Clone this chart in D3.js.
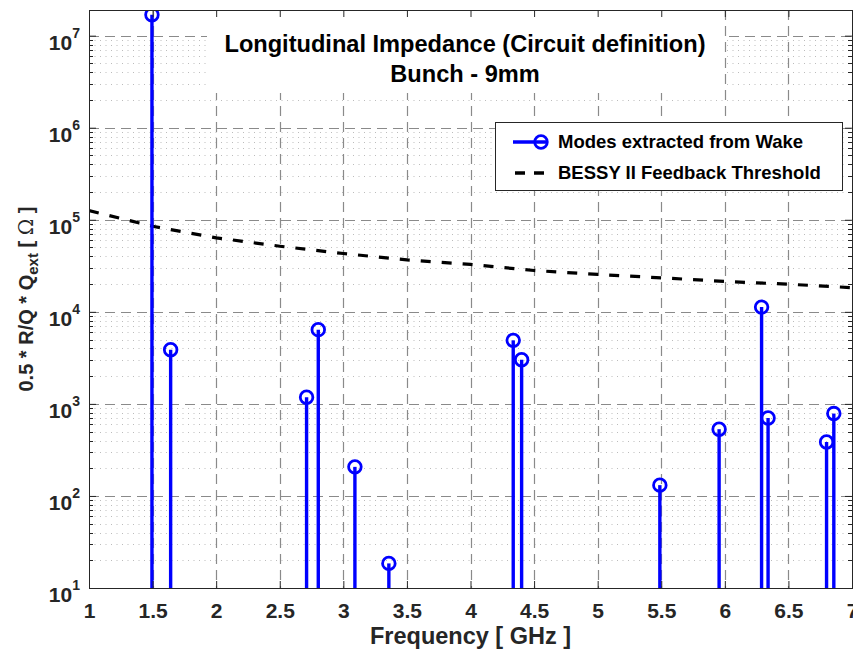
<!DOCTYPE html>
<html>
<head>
<meta charset="utf-8">
<script src="https://cdn.jsdelivr.net/npm/d3@7"></script>
<style>
  body { margin: 0; background: #fff; }
  text { font-family: "Liberation Sans", Arial, sans-serif; font-weight: bold; fill: #262626; }
</style>
</head>
<body>
<svg id="chart" width="853" height="651"></svg>
<script>
// modes extracted from the wake (frequency in GHz, 0.5*R/Q*Qext in Ohm)
const modeFreq = [1.495, 1.642, 2.711, 2.803, 3.091, 3.358, 4.336, 4.402, 5.489, 5.955, 6.289, 6.340, 6.800, 6.857];
const modeImp = [1.69e7, 3880, 1180, 6400, 207, 18.5, 4900, 3020, 131, 531, 11250, 703, 386, 785];

// BESSY II feedback threshold
const thrFreq = [1.0, 1.5, 2.0, 2.5, 3.0, 3.5, 4.0, 4.5, 5.0, 5.5, 6.0, 6.5, 7.0];
const thrImp = [126000, 85000, 63700, 51600, 43000, 36700, 32700, 28100, 25500, 23400, 21400, 19950, 18300];

const xTicks = [1, 1.5, 2, 2.5, 3, 3.5, 4, 4.5, 5, 5.5, 6, 6.5, 7];
const xTickLabels = ['1', '1.5', '2', '2.5', '3', '3.5', '4', '4.5', '5', '5.5', '6', '6.5', '7'];
const yDecades = [1, 2, 3, 4, 5, 6, 7];
const titleLines = ['Longitudinal Impedance (Circuit definition)', 'Bunch - 9mm'];
const legendLabels = ['Modes extracted from Wake', 'BESSY II Feedback Threshold'];

const box = { left: 89, right: 852, top: 10, bottom: 588 };
const blue = '#0000ff';

const svg = d3.select('#chart');

const x = d3.scaleLinear().domain([1, 7]).range([box.left, box.right]);
const y = d3.scaleLog().domain([10, 1.9e7]).range([box.bottom, box.top]);

svg.append('defs').append('clipPath').attr('id', 'plotClip')
  .append('rect')
  .attr('x', box.left).attr('y', box.top)
  .attr('width', box.right - box.left).attr('height', box.bottom - box.top);

// minor grid (dotted rows at 2..9 x decade)
const minorVals = [];
yDecades.forEach(d => {
  for (let k = 2; k <= 9; k++) {
    const v = k * Math.pow(10, d);
    if (v < y.domain()[1]) minorVals.push(v);
  }
});

const grid = svg.append('g');
grid.selectAll('.minor')
  .data(minorVals)
  .enter()
  .append('line')
  .attr('x1', box.left).attr('x2', box.right)
  .attr('y1', d => Math.round(y(d)) + 0.5).attr('y2', d => Math.round(y(d)) + 0.5)
  .attr('stroke', '#bcbcbc')
  .attr('stroke-width', 1)
  .attr('stroke-dasharray', '1,4.5');

// major grid
grid.selectAll('.majorY')
  .data(yDecades.slice(1).map(d => Math.pow(10, d)))
  .enter()
  .append('line')
  .attr('x1', box.left).attr('x2', box.right)
  .attr('y1', d => Math.round(y(d)) + 0.5).attr('y2', d => Math.round(y(d)) + 0.5)
  .attr('stroke', '#8a8a8a')
  .attr('stroke-width', 1.2)
  .attr('stroke-dasharray', '10,6');

grid.selectAll('.majorX')
  .data(xTicks.slice(1, -1))
  .enter()
  .append('line')
  .attr('x1', d => Math.round(x(d)) + 0.5).attr('x2', d => Math.round(x(d)) + 0.5)
  .attr('y1', box.top).attr('y2', box.bottom)
  .attr('stroke', '#8a8a8a')
  .attr('stroke-width', 1.2)
  .attr('stroke-dasharray', '10,6');

// data
const plot = svg.append('g').attr('clip-path', 'url(#plotClip)');

const thrLine = d3.line()
  .x((d, i) => x(thrFreq[i]))
  .y(d => y(d));

plot.append('path')
  .datum(thrImp)
  .attr('d', thrLine)
  .attr('fill', 'none')
  .attr('stroke', '#000')
  .attr('stroke-width', 3.2)
  .attr('stroke-dasharray', '10,11');

const modes = modeFreq.map((f, i) => ({ f: f, z: modeImp[i] }));

plot.selectAll('.stem')
  .data(modes)
  .enter()
  .append('line')
  .attr('x1', d => x(d.f)).attr('x2', d => x(d.f))
  .attr('y1', box.bottom).attr('y2', d => y(d.z))
  .attr('stroke', blue)
  .attr('stroke-width', 3.4);

plot.selectAll('.marker')
  .data(modes)
  .enter()
  .append('circle')
  .attr('cx', d => x(d.f))
  .attr('cy', d => y(d.z))
  .attr('r', 6.3)
  .attr('fill', 'none')
  .attr('stroke', blue)
  .attr('stroke-width', 2.8);

// title box
svg.append('rect')
  .attr('x', 207).attr('y', box.top + 1)
  .attr('width', 517).attr('height', 82)
  .attr('fill', '#fff');

svg.selectAll('.title')
  .data(titleLines)
  .enter()
  .append('text')
  .attr('x', 465)
  .attr('y', (d, i) => 52 + i * 30)
  .attr('text-anchor', 'middle')
  .style('font-size', '23.6px')
  .style('fill', '#000')
  .text(d => d);

// axes
const axisColor = '#262626';

const xAxis = svg.append('g')
  .attr('transform', `translate(0,${box.bottom})`)
  .call(d3.axisBottom(x).tickValues(xTicks).tickSizeInner(-7).tickSizeOuter(0)
    .tickFormat((d, i) => xTickLabels[i]));
xAxis.selectAll('text').attr('y', 30).attr('dy', null).style('font-size', '21px');

const xAxisTop = svg.append('g')
  .attr('transform', `translate(0,${box.top})`)
  .call(d3.axisTop(x).tickValues(xTicks).tickSizeInner(-7).tickSizeOuter(0).tickFormat(''));

const yAxis = svg.append('g')
  .attr('transform', `translate(${box.left},0)`)
  .call(d3.axisLeft(y).tickValues(yDecades.map(d => Math.pow(10, d))).tickSizeInner(-7).tickSizeOuter(0).tickFormat(''));

const yAxisRight = svg.append('g')
  .attr('transform', `translate(${box.right},0)`)
  .call(d3.axisRight(y).tickValues(yDecades.map(d => Math.pow(10, d))).tickSizeInner(-7).tickSizeOuter(0).tickFormat(''));

[xAxis, xAxisTop, yAxis, yAxisRight].forEach(a => {
  a.select('.domain').remove();
  a.selectAll('line').attr('stroke', axisColor);
});

// minor log ticks on both sides
[[box.left, 4], [box.right, -4]].forEach(([px, len]) => {
  svg.append('g').selectAll('line')
    .data(minorVals)
    .enter()
    .append('line')
    .attr('x1', px).attr('x2', px + len)
    .attr('y1', d => Math.round(y(d)) + 0.5).attr('y2', d => Math.round(y(d)) + 0.5)
    .attr('stroke', axisColor);
});

// y tick labels 10^n
const yLab = svg.append('g').selectAll('text')
  .data(yDecades)
  .enter()
  .append('text')
  .attr('x', box.left - 9)
  .attr('y', d => y(Math.pow(10, d)) + 14)
  .attr('text-anchor', 'end')
  .style('font-size', '21px');
yLab.append('tspan').text('10');
yLab.append('tspan')
  .attr('dy', -12)
  .style('font-size', '14px')
  .text(d => d);

// frame
svg.append('rect')
  .attr('x', box.left + 0.5).attr('y', box.top + 0.5)
  .attr('width', box.right - box.left).attr('height', box.bottom - box.top)
  .attr('fill', 'none')
  .attr('stroke', axisColor)
  .attr('stroke-width', 1);

// axis labels
svg.append('text')
  .attr('x', (box.left + box.right) / 2)
  .attr('y', 644)
  .attr('text-anchor', 'middle')
  .style('font-size', '23.5px')
  .text('Frequency [ GHz ]');

const yTitle = svg.append('text')
  .attr('transform', `translate(33,${(box.top + box.bottom) / 2}) rotate(-90)`)
  .attr('text-anchor', 'middle')
  .style('font-size', '20px');
yTitle.append('tspan').text('0.5 * R/Q * Q');
yTitle.append('tspan').attr('dy', 5).style('font-size', '15px').text('ext');
yTitle.append('tspan').attr('dy', -5).text(' [ ');
yTitle.append('tspan').style('font-weight', 'normal').style('font-family', 'DejaVu Serif, serif').text('Ω');
yTitle.append('tspan').text(' ]');

// legend
const lg = svg.append('g');
lg.append('rect')
  .attr('x', 495.5).attr('y', 122.5)
  .attr('width', 347).attr('height', 68)
  .attr('fill', '#fff')
  .attr('stroke', axisColor);

lg.append('line')
  .attr('x1', 513).attr('x2', 547)
  .attr('y1', 142).attr('y2', 142)
  .attr('stroke', blue).attr('stroke-width', 3.4);
lg.append('circle')
  .attr('cx', 541).attr('cy', 142).attr('r', 6.3)
  .attr('fill', 'none').attr('stroke', blue).attr('stroke-width', 2.8);
lg.append('line')
  .attr('x1', 515).attr('x2', 547)
  .attr('y1', 173).attr('y2', 173)
  .attr('stroke', '#000').attr('stroke-width', 3.4)
  .attr('stroke-dasharray', '10,9');

lg.selectAll('.lbl')
  .data(legendLabels)
  .enter()
  .append('text')
  .attr('x', 558)
  .attr('y', (d, i) => 148 + i * 31)
  .style('font-size', '18.5px')
  .style('fill', '#000')
  .text(d => d);
</script>
</body>
</html>
